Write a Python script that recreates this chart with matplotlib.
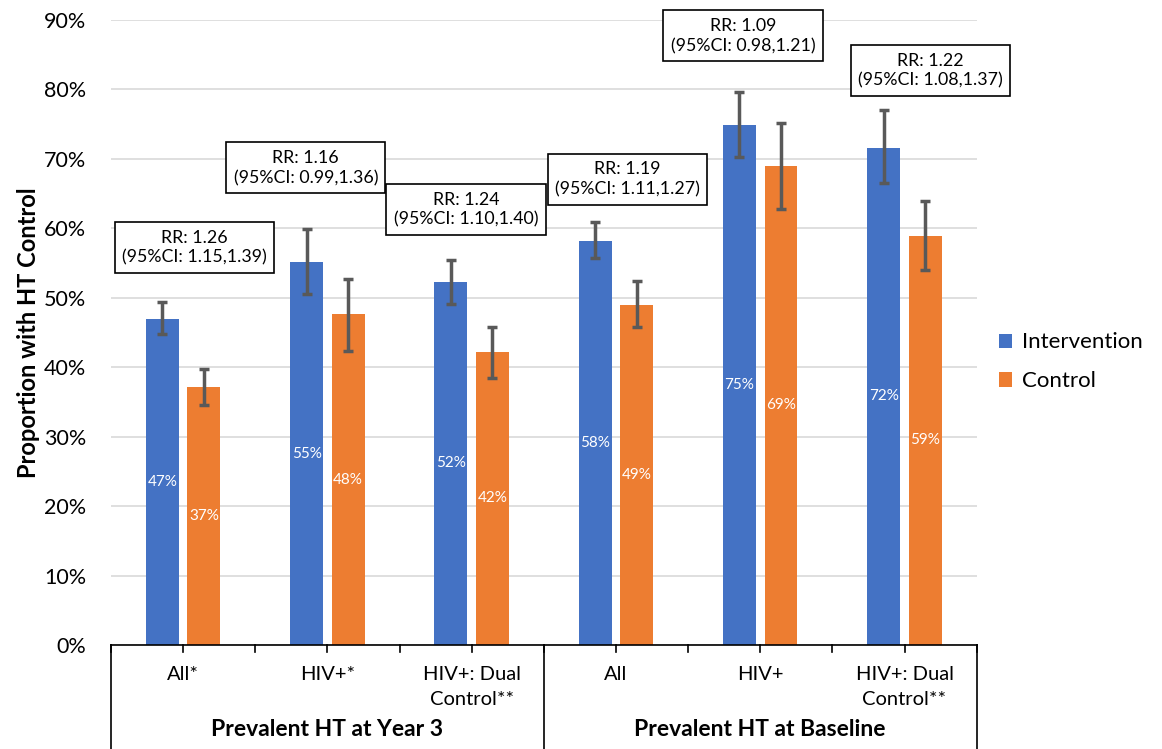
import matplotlib.pyplot as plt
import numpy as np
from matplotlib.ticker import PercentFormatter

plt.rcParams['font.family'] = ['Lato', 'DejaVu Sans']

# subgroups on the category axis
categories = ['All*', 'HIV+*', 'HIV+: Dual\nControl**', 'All', 'HIV+', 'HIV+: Dual\nControl**']
groups = ['Prevalent HT at Year 3', 'Prevalent HT at Baseline']

# proportion with HT control (%)
intervention = [46.9, 55.1, 52.3, 58.2, 74.9, 71.6]
control = [37.2, 47.6, 42.2, 49.0, 69.0, 58.9]

# 95% CI bounds (%)
int_low = [44.8, 50.5, 49.1, 55.7, 70.3, 66.5]
int_high = [49.4, 59.9, 55.5, 60.9, 79.7, 77.1]
ctrl_low = [34.6, 42.4, 38.4, 45.8, 62.8, 54.0]
ctrl_high = [39.7, 52.7, 45.8, 52.4, 75.2, 63.9]

rr_text = [
    'RR: 1.26\n(95%CI: 1.15,1.39)',
    'RR: 1.16\n(95%CI: 0.99,1.36)',
    'RR: 1.24\n(95%CI: 1.10,1.40)',
    'RR: 1.19\n(95%CI: 1.11,1.27)',
    'RR: 1.09\n(95%CI: 0.98,1.21)',
    'RR: 1.22\n(95%CI: 1.08,1.37)',
]
# where each RR box sits (x in category units, y in %)
rr_pos = [(0.08, 57.2), (0.85, 68.7), (1.96, 62.7), (3.08, 67.1), (3.88, 87.7), (5.18, 82.7)]

blue = '#4472c4'
orange = '#ed7d31'
err_color = '#595959'

fig = plt.figure(figsize=(11.62, 7.49), dpi=100)
ax = fig.add_axes([0.0955, 0.1389, 0.745, 0.8344])

x = np.arange(len(categories))
w = 0.228
off = 0.144

ax.bar(x - off, intervention, w, color=blue, label='Intervention', zorder=2)
ax.bar(x + off, control, w, color=orange, label='Control', zorder=2)

i_err = [np.array(intervention) - np.array(int_low), np.array(int_high) - np.array(intervention)]
c_err = [np.array(control) - np.array(ctrl_low), np.array(ctrl_high) - np.array(control)]
ax.errorbar(x - off, intervention, yerr=i_err, fmt='none', ecolor=err_color,
            elinewidth=2.5, capsize=3.5, capthick=2.5, zorder=3)
ax.errorbar(x + off, control, yerr=c_err, fmt='none', ecolor=err_color,
            elinewidth=2.5, capsize=3.5, capthick=2.5, zorder=3)

# value labels in the middle of each bar
for xi, v in zip(x - off, intervention):
    ax.text(xi, v / 2, f'{v:.0f}%', ha='center', va='center', color='white', fontsize=11, zorder=4)
for xi, v in zip(x + off, control):
    ax.text(xi, v / 2, f'{v:.0f}%', ha='center', va='center', color='white', fontsize=11, zorder=4)

for txt, (bx, by) in zip(rr_text, rr_pos):
    ax.text(bx, by, txt, ha='center', va='center', fontsize=12.8, linespacing=1.3, zorder=5,
            bbox=dict(boxstyle='square,pad=0.42', fc='white', ec='black', lw=1.2))

ax.set_xlim(-0.5, 5.5)
ax.set_ylim(0, 90)
ax.set_yticks(np.arange(0, 91, 10))
ax.yaxis.set_major_formatter(PercentFormatter(decimals=0))
ax.tick_params(axis='y', length=0, labelsize=15.5, pad=18)
ax.grid(axis='y', color='#d9d9d9', lw=1.2, zorder=0)
ax.set_axisbelow(True)
for s in ['left', 'right', 'top']:
    ax.spines[s].set_visible(False)
ax.spines['bottom'].set_color('black')
ax.spines['bottom'].set_linewidth(1.2)

ax.set_ylabel('Proportion with HT Control', fontsize=17, fontweight='bold', labelpad=3)

# two-level category axis drawn by hand
ax.set_xticks([])
tr = ax.get_xaxis_transform()
for t in np.arange(-0.5, 5.51, 0.5):
    ax.plot([t, t], [0, -0.012], transform=tr, color='black', lw=1.2, clip_on=False)
for t in [-0.5, 2.5, 5.5]:
    ax.plot([t, t], [0, -0.2], transform=tr, color='black', lw=1.2, clip_on=False)
for xi, lab in zip(x, categories):
    ax.text(xi, -0.033, lab, transform=tr, ha='center', va='top', fontsize=14.5, linespacing=1.6)
for gi, g in enumerate(groups):
    ax.text(1 + 3 * gi, -0.135, g, transform=tr, ha='center', va='center',
            fontsize=16.5, fontweight='bold')

ax.legend(loc='center left', bbox_to_anchor=(1.01, 0.453), frameon=False, fontsize=16,
          handlelength=0.6, handleheight=0.6, handletextpad=0.45, labelspacing=0.85,
          borderaxespad=0.2)

fig.savefig('out.png', dpi=100)
